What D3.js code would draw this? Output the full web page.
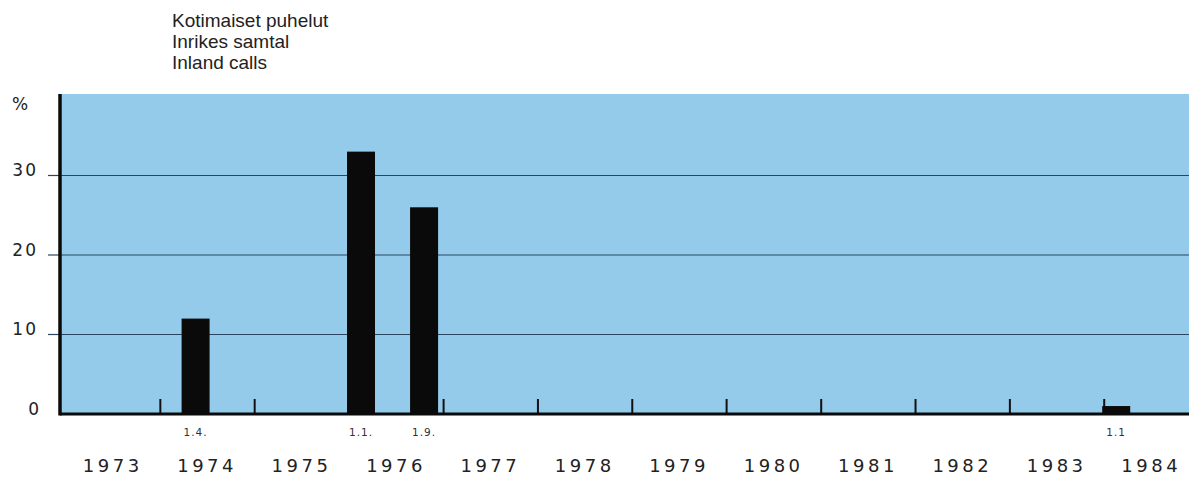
<!DOCTYPE html>
<html><head><meta charset="utf-8">
<script src="https://cdn.jsdelivr.net/npm/d3@7"></script>
<style>
html,body{margin:0;padding:0;background:#fff;}
svg{display:block;}
</style></head>
<body>
<script>
const titleLines = ["Kotimaiset puhelut", "Inrikes samtal", "Inland calls"];
const years = [1973, 1974, 1975, 1976, 1977, 1978, 1979, 1980, 1981, 1982, 1983, 1984];
const barDates = ["1974-04-01", "1976-01-01", "1976-09-01", "1984-01-01"];
const barLabels = ["1.4.", "1.1.", "1.9.", "1.1"];
const barValues = [12, 33, 26, 1];
const yTicks = [0, 10, 20, 30];
const yUnit = "%";

const W = 1189, H = 478;
const plotLeft = 60, plotRight = 1189, plotTop = 94, base = 414;

const svg = d3.select("body").append("svg").attr("width", W).attr("height", H);

const x = d3.scaleTime()
  .domain([new Date(1973, 0, 1), new Date(1985, 0, 1)])
  .range([66, 66 + 12 * 94.4]);
const y = d3.scaleLinear().domain([0, 40.25]).range([base, plotTop]);
const parse = d3.timeParse("%Y-%m-%d");

// background
svg.append("rect").attr("x", plotLeft).attr("y", plotTop)
  .attr("width", plotRight - plotLeft).attr("height", base - plotTop)
  .attr("fill", "#94caea");

// gridlines
svg.selectAll(".grid").data(yTicks.filter(d => d > 0)).join("line")
  .attr("x1", plotLeft).attr("x2", plotRight)
  .attr("y1", d => y(d)).attr("y2", d => y(d))
  .attr("stroke", "#2a4660").attr("stroke-width", 1.2);

// y ticks (left of axis)
svg.selectAll(".ytick").data(yTicks.filter(d => d > 0)).join("line")
  .attr("x1", plotLeft - 12).attr("x2", plotLeft)
  .attr("y1", d => y(d)).attr("y2", d => y(d))
  .attr("stroke", "#2a4660").attr("stroke-width", 1.2);

// y labels
svg.selectAll(".ylab").data(yTicks).join("text")
  .attr("x", d => d >= 10 ? 38 : 39).attr("y", d => y(d) + 1)
  .attr("text-anchor", "end")
  .attr("font-family", "DejaVu Sans, sans-serif").attr("font-size", 17)
  .attr("letter-spacing", d => d >= 10 ? 2 : 0)
  .attr("fill", "#222")
  .text(d => d);

svg.append("text").attr("x", 12).attr("y", 110)
  .attr("font-family", "DejaVu Sans, sans-serif").attr("font-size", 17)
  .attr("fill", "#222").text(yUnit);

// year boundary ticks
svg.selectAll(".ytickx").data(years.slice(1)).join("line")
  .attr("x1", d => x(new Date(d, 0, 1))).attr("x2", d => x(new Date(d, 0, 1)))
  .attr("y1", base - 15).attr("y2", base)
  .attr("stroke", "#111").attr("stroke-width", 2);

// bars
const barW = 28;
const bars = barDates.map((d, i) => ({date: parse(d), value: barValues[i], label: barLabels[i]}));
svg.selectAll(".bar").data(bars).join("rect")
  .attr("x", d => x(d.date) - 2)
  .attr("y", d => y(d.value))
  .attr("width", barW)
  .attr("height", d => base - y(d.value))
  .attr("fill", "#0a0a0a");

// bar date labels
svg.selectAll(".blab").data(bars).join("text")
  .attr("x", d => x(d.date) - 2 + barW / 2)
  .attr("y", 436)
  .attr("text-anchor", "middle")
  .attr("font-family", "DejaVu Sans, sans-serif").attr("font-size", 10.5)
  .attr("letter-spacing", 1)
  .attr("fill", "#333")
  .text(d => d.label);

// baseline
svg.append("line").attr("x1", plotLeft).attr("x2", plotRight)
  .attr("y1", base).attr("y2", base)
  .attr("stroke", "#0a0a0a").attr("stroke-width", 3);

// y axis
svg.append("line").attr("x1", plotLeft).attr("x2", plotLeft)
  .attr("y1", plotTop).attr("y2", base + 1.5)
  .attr("stroke", "#0a0a0a").attr("stroke-width", 3.5);

// year labels
svg.selectAll(".yearlab").data(years).join("text")
  .attr("x", d => x(new Date(d, 6, 1)))
  .attr("y", 472)
  .attr("text-anchor", "middle")
  .attr("font-family", "DejaVu Sans, sans-serif").attr("font-size", 18)
  .attr("letter-spacing", 3.5)
  .attr("fill", "#222")
  .text(d => d);

// title
svg.selectAll(".title").data(titleLines).join("text")
  .attr("x", 172).attr("y", (d, i) => 27 + i * 21)
  .attr("font-family", "Liberation Sans, Arial, sans-serif").attr("font-size", 19)
  .attr("fill", "#222")
  .text(d => d);
</script>
</body></html>
